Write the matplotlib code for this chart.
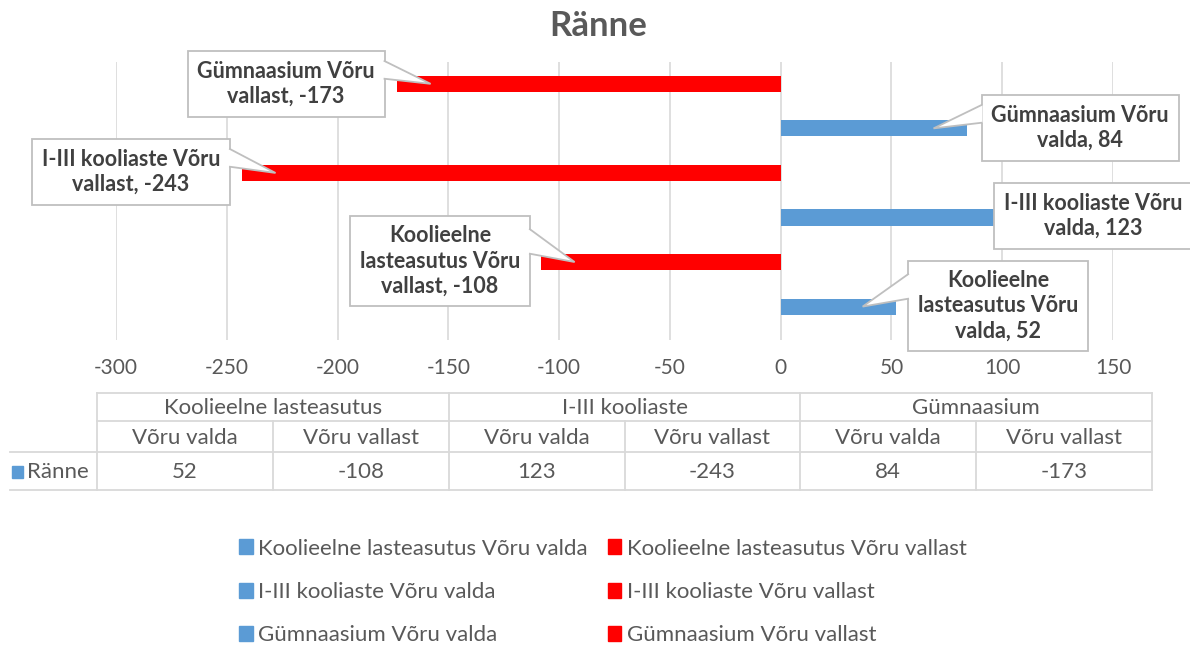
import textwrap
import matplotlib
matplotlib.use("Agg")
import matplotlib.pyplot as plt
from matplotlib.patches import Patch, Polygon

# ---------------- data ----------------
title = "Ränne"
row_label = "Ränne"
groups = ["Koolieelne lasteasutus", "I-III kooliaste", "Gümnaasium"]
subgroups = ["Võru valda", "Võru vallast"]
series_names = [
    "Koolieelne lasteasutus Võru valda",
    "Koolieelne lasteasutus Võru vallast",
    "I-III kooliaste Võru valda",
    "I-III kooliaste Võru vallast",
    "Gümnaasium Võru valda",
    "Gümnaasium Võru vallast",
]
values = [52, -108, 123, -243, 84, -173]
x_ticks = [-300, -250, -200, -150, -100, -50, 0, 50, 100, 150]

# ---------------- style ----------------
BLUE = "#5B9BD5"
RED = "#FF0000"
GRID = "#D9D9D9"
TXT = "#595959"
LBL = "#404040"
BOX = "#BFBFBF"
FONT = ["Lato", "DejaVu Sans"]
plt.rcParams["font.family"] = FONT

W, H = 1190, 647
fig = plt.figure(figsize=(W / 100, H / 100), dpi=100)


def fx(x):
    return x / W


def fy(y):
    return 1 - y / H


# main axes (pixel box 116..1113 x 62..340)
ax = fig.add_axes([fx(116), fy(340), fx(1113) - fx(116), fy(62) - fy(340)])
colors = [BLUE if i % 2 == 0 else RED for i in range(len(values))]
n = len(values)
pos = [n - 1 - i for i in range(n)]  # first series at bottom
bars = ax.barh(pos, values, height=0.36, color=colors, zorder=3)
ax.set_xlim(-300, 150)
ax.set_ylim(5.75, -0.49)
ax.set_xticks(x_ticks)
ax.set_xticklabels([str(t) for t in x_ticks])
ax.tick_params(axis="x", length=0, pad=13, labelsize=15, labelcolor=TXT)
ax.set_yticks([])
ax.grid(axis="x", color=GRID, lw=1.2, zorder=0)
for s in ax.spines.values():
    s.set_visible(False)

# overlay axes in image pixel coordinates
ov = fig.add_axes([0, 0, 1, 1], zorder=5)
ov.set_xlim(0, W)
ov.set_ylim(H, 0)
ov.axis("off")
ov.patch.set_alpha(0)

# data label callouts (box centres in pixel layout)
label_centres = {
    0: (998, 306),
    1: (440, 261),
    2: (1093, 216),
    3: (131, 172),
    4: (1080, 128),
    5: (286, 84),
}
label_texts = []
for i, (name, v) in enumerate(zip(series_names, values)):
    txt = textwrap.fill(f"{name}, {v}", width=20)
    cx, cy = label_centres[i]
    t = ov.text(
        cx, cy, txt, ha="center", va="center", fontsize=15.5,
        fontweight="bold", color=LBL, linespacing=1.25, zorder=6,
        bbox=dict(boxstyle="square,pad=0.45", fc="white", ec=BOX, lw=1.3),
    )
    label_texts.append(t)

fig.canvas.draw()
renderer = fig.canvas.get_renderer()
inv = ov.transData.inverted()
for i, t in enumerate(label_texts):
    v = values[i]
    tip_data = (v - (15 if v > 0 else -15), pos[i])
    tx, ty = inv.transform(ax.transData.transform(tip_data))
    ext = t.get_bbox_patch().get_window_extent(renderer)
    (x0, y0b), (x1, y1b) = inv.transform([[ext.x0, ext.y0], [ext.x1, ext.y1]])
    top, bot = min(y0b, y1b), max(y0b, y1b)
    h = bot - top
    if tx > x1:
        edge, inset = x1, -1.0
    elif tx < x0:
        edge, inset = x0, 1.0
    else:
        continue
    if edge == x1 and tx - x1 < 5:
        continue
    if edge == x0 and x0 - tx < 5:
        continue
    ya, yb = top + 0.15 * h, top + 0.42 * h
    ov.add_patch(Polygon([[edge + inset, ya], [tx, ty], [edge + inset, yb]],
                         closed=True, fc="white", ec="none", zorder=7))
    ov.plot([edge, tx, edge], [ya, ty, yb], color=BOX, lw=1.3, zorder=8,
            solid_joinstyle="miter")

# title
fig.text(fx(598), fy(26), title, ha="center", va="center", fontsize=25,
         fontweight="bold", color=TXT)

# ---------------- data table ----------------
L, R = 97, 1152
r0, r1, r2, r3 = 393, 421, 452, 490
colw = (R - L) / 6
lc = dict(color=GRID, lw=1.3)
ov.plot([L, R], [r0, r0], **lc)
ov.plot([L, R], [r1, r1], **lc)
ov.plot([10, R], [r2, r2], **lc)
ov.plot([10, R], [r3, r3], **lc)
ov.plot([L, L], [r0, r3], **lc)
ov.plot([R, R], [r0, r3], **lc)
for g in range(1, 3):
    xg = L + 2 * g * colw
    ov.plot([xg, xg], [r0, r3], **lc)
for g in range(3):
    xs = L + (2 * g + 1) * colw
    ov.plot([xs, xs], [r1, r3], **lc)

tfs = 16
for g, gname in enumerate(groups):
    ov.text(L + (2 * g + 1) * colw, (r0 + r1) / 2 + 1, gname, ha="center",
            va="center", fontsize=tfs, color=TXT)
    for s, sname in enumerate(subgroups):
        k = 2 * g + s
        xc = L + (k + 0.5) * colw
        ov.text(xc, (r1 + r2) / 2 + 1, sname, ha="center", va="center",
                fontsize=tfs, color=TXT)
        ov.text(xc, (r2 + r3) / 2 + 1, str(values[k]), ha="center",
                va="center", fontsize=tfs, color=TXT)
ov.add_patch(plt.Rectangle((12, 466), 11, 12, color=BLUE))
ov.text(27, (r2 + r3) / 2 + 1, row_label, ha="left", va="center",
        fontsize=tfs, color=TXT)

# ---------------- legend ----------------
order = [0, 2, 4, 1, 3, 5]
handles = [Patch(color=colors[i]) for i in order]
labels = [series_names[i] for i in order]
leg = fig.legend(
    handles, labels, ncol=2, loc="center", bbox_to_anchor=(fx(603), fy(592)),
    frameon=False, fontsize=16, labelcolor=TXT, handlelength=0.6,
    handleheight=0.65, handletextpad=0.25, columnspacing=0.9, labelspacing=1.05,
)

fig.savefig("out.png", dpi=100)
